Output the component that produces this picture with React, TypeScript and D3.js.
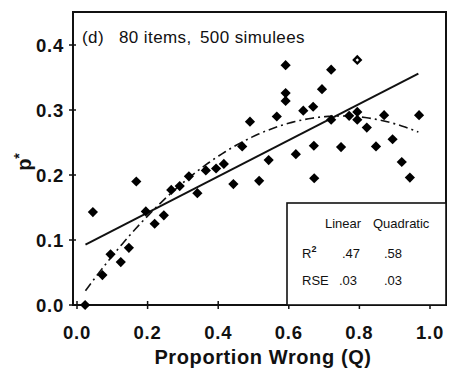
import React from "react";
import * as d3 from "d3";

const qValues = [0.023, 0.045, 0.072, 0.095, 0.124, 0.147, 0.168, 0.195, 0.22, 0.246, 0.267, 0.291, 0.317, 0.341, 0.365, 0.394, 0.416, 0.443, 0.468, 0.49, 0.516, 0.543, 0.566, 0.591, 0.591, 0.591, 0.62, 0.641, 0.669, 0.671, 0.672, 0.694, 0.72, 0.794, 0.72, 0.748, 0.771, 0.794, 0.794, 0.821, 0.847, 0.87, 0.894, 0.92, 0.943, 0.969];
const pValues = [0.0, 0.143, 0.046, 0.078, 0.066, 0.088, 0.19, 0.144, 0.125, 0.138, 0.177, 0.183, 0.198, 0.172, 0.207, 0.21, 0.217, 0.186, 0.244, 0.282, 0.191, 0.223, 0.29, 0.369, 0.326, 0.314, 0.232, 0.299, 0.305, 0.245, 0.195, 0.332, 0.362, 0.377, 0.285, 0.243, 0.291, 0.297, 0.285, 0.273, 0.244, 0.292, 0.255, 0.22, 0.196, 0.292];
const hollowIndex = [33];

const linearCoef = [0.0863, 0.279];
const quadCoef = [0.0039, 0.7679, -0.5138];
const fitRange = [0.024, 0.967];

const xTicks = [0, 0.2, 0.4, 0.6, 0.8, 1.0];
const yTicks = [0, 0.1, 0.2, 0.3, 0.4];

const tableHeader = ["Linear", "Quadratic"];
const tableR2 = [".47", ".58"];
const tableRSE = [".03", ".03"];

const W = 451;
const H = 376;
const FONT = "'Liberation Sans', Arial, Helvetica, sans-serif";

export default function App() {
  const x = d3.scaleLinear().domain([0, 1]).range([77, 430]);
  const y = d3.scaleLinear().domain([0, 0.4]).range([305, 45]);
  const left = 73, right = 446, top = 12, bottom = 305;

  const data = qValues.map((q, i) => ({ q, p: pValues[i], hollow: hollowIndex.includes(i) }));

  const linePath = d3.line<number>()
    .x((q) => x(q))
    .y((q) => y(linearCoef[0] + linearCoef[1] * q))(fitRange);

  const qs = d3.range(0, 101).map((i) => fitRange[0] + (fitRange[1] - fitRange[0]) * i / 100);
  const quadPath = d3.line<number>()
    .x((q) => x(q))
    .y((q) => y(quadCoef[0] + quadCoef[1] * q + quadCoef[2] * q * q))
    .curve(d3.curveLinear)(qs);

  const diamond = d3.symbol().type(d3.symbolSquare).size(52)() as string;
  const inner = d3.symbol().type(d3.symbolSquare).size(6)() as string;

  const boxL = 287, boxT = 203;

  return (
    <svg width={W} height={H} style={{ position: "absolute", left: 0, top: 0, background: "#fff" }}>
      <rect x={0} y={0} width={W} height={H} fill="#fff" />
      {/* frame */}
      <rect x={left} y={top} width={right - left} height={bottom - top} fill="none" stroke="#111" strokeWidth={2} />
      {/* y ticks */}
      {yTicks.map((t) => (
        <g key={"y" + t}>
          <line x1={left - 4} x2={left + 3} y1={y(t)} y2={y(t)} stroke="#111" strokeWidth={1.5} />
          <text x={left - 9} y={y(t)} dy="0.36em" textAnchor="end" fontFamily={FONT} fontWeight="bold" fontSize={18.5} letterSpacing={0.8} fill="#111">
            {t.toFixed(1)}
          </text>
        </g>
      ))}
      {/* x ticks */}
      {xTicks.map((t) => (
        <g key={"x" + t}>
          <line x1={x(t)} x2={x(t)} y1={bottom - 4} y2={bottom + 4} stroke="#111" strokeWidth={1.5} />
          <text x={x(t)} y={bottom + 34} textAnchor="middle" fontFamily={FONT} fontWeight="bold" fontSize={18.5} letterSpacing={0.8} fill="#111">
            {t.toFixed(1)}
          </text>
        </g>
      ))}
      {/* axis titles */}
      <text x={263} y={364} textAnchor="middle" fontFamily={FONT} fontWeight="bold" fontSize={20} letterSpacing={0.6} fill="#111">
        Proportion Wrong (Q)
      </text>
      <text transform="translate(31,162) rotate(-90)" textAnchor="middle" fontFamily={FONT} fontWeight="bold" fontSize={20} fill="#111">
        p<tspan dy={-7} fontSize={14}>*</tspan>
      </text>
      {/* panel label */}
      <text x={82} y={43} fontFamily={FONT} fontSize={17} letterSpacing={0.4} fill="#111">(d)</text>
      <text x={119} y={43} fontFamily={FONT} fontSize={17} letterSpacing={0.4} fill="#111">80 items,</text>
      <text x={200} y={43} fontFamily={FONT} fontSize={17} letterSpacing={0.4} fill="#111">500 simulees</text>

      {/* fits */}
      <path d={linePath || ""} fill="none" stroke="#111" strokeWidth={2} />
      <path d={quadPath || ""} fill="none" stroke="#111" strokeWidth={1.6} strokeDasharray="9,4,2,4" />

      {/* points */}
      {data.map((d, i) => (
        <g key={i} transform={`translate(${x(d.q)},${y(d.p)}) rotate(45)`}>
          <path d={diamond} fill="#000" />
          {d.hollow && <path d={inner} fill="#fff" />}
        </g>
      ))}

      {/* stats box */}
      <rect x={boxL} y={boxT} width={right - boxL} height={bottom - boxT} fill="#fff" stroke="#111" strokeWidth={1.6} />
      <text x={325} y={228} fontFamily={FONT} fontSize={13} fill="#111">{tableHeader[0]}</text>
      <text x={373} y={228} fontFamily={FONT} fontSize={13} fill="#111">{tableHeader[1]}</text>
      <text x={302} y={258} fontFamily={FONT} fontSize={13} fill="#111">R<tspan dy={-6} fontSize={9} fontWeight="bold">2</tspan></text>
      <text x={342} y={258} fontFamily={FONT} fontSize={13} fill="#111">{tableR2[0]}</text>
      <text x={384} y={258} fontFamily={FONT} fontSize={13} fill="#111">{tableR2[1]}</text>
      <text x={302} y={285} fontFamily={FONT} fontSize={13} fill="#111">RSE</text>
      <text x={339} y={285} fontFamily={FONT} fontSize={13} fill="#111">{tableRSE[0]}</text>
      <text x={384} y={285} fontFamily={FONT} fontSize={13} fill="#111">{tableRSE[1]}</text>
    </svg>
  );
}
